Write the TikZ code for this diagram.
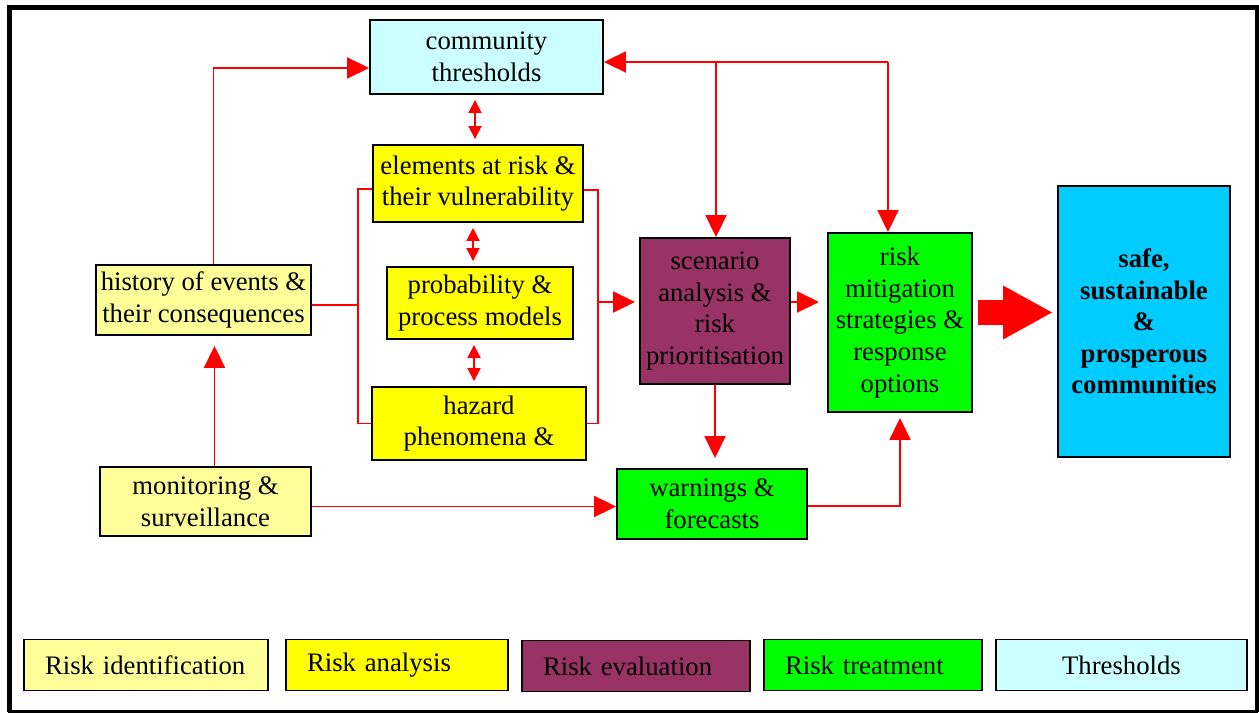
\documentclass[tikz,border=0pt]{standalone}
\usepackage{fontspec}
\setmainfont{LiberationSerif}[Extension=.ttf, UprightFont=*-Regular, BoldFont=*-Bold,
    ItalicFont=*-Italic, BoldItalicFont=*-BoldItalic]
\usetikzlibrary{arrows.meta}
\definecolor{idyellow}{HTML}{FFFF99}
\definecolor{anyellow}{HTML}{FFFF00}
\definecolor{evpurple}{HTML}{993366}
\definecolor{trgreen}{HTML}{00FF00}
\definecolor{thcyan}{HTML}{CCFFFF}
\definecolor{goalblue}{HTML}{00CCFF}
\tikzset{
    box/.style={draw=black, line width=1.1pt, align=center, inner sep=0pt,
        font=\fontsize{15.2}{18}\selectfont},
    key/.style={box, minimum height=1.02cm, inner xsep=0.42cm, align=left},
    feed/.style={red, line width=1.1pt},
    link/.style={feed, -{Triangle[length=0.44cm,width=0.42cm]}},
    twoway/.style={feed, {Triangle[length=0.26cm,width=0.26cm]}-{Triangle[length=0.26cm,width=0.26cm]},
        shorten <=0.1cm, shorten >=0.1cm},
    fat/.style={red, line width=0.52cm, -{Triangle[length=1cm,width=1cm]}}
}
\begin{document}
\begin{tikzpicture}[x=0.02cm, y=-0.02cm]
    \useasboundingbox (0,0) rectangle (1259,713);
    \draw[line width=0.05cm] (9.5,7.5) rectangle (1257,711.5);
    \draw[line width=0.1cm] (9.5,711.5) -- (9.5,7.5) -- (1257,7.5) -- (1257,711.5);

    \node[box, fill=thcyan, minimum width=4.66cm, minimum height=1.48cm] (thr) at (486.5,57) {community\\thresholds};
    \node[box, fill=anyellow, minimum width=4.2cm, minimum height=1.54cm] (elem) at (478,183.5) {elements at risk \&\\their vulnerability};
    \node[box, fill=anyellow, minimum width=3.72cm, minimum height=1.44cm] (prob) at (480,303) {probability \&\\process models};
    \node[box, fill=anyellow, minimum width=4.28cm, minimum height=1.46cm] (haz) at (479,423.5) {hazard\\phenomena \&};
    \node[box, fill=idyellow, minimum width=4.3cm, minimum height=1.4cm] (hist) at (203.5,300) {history of events \&\\their consequences};
    \node[box, fill=idyellow, minimum width=4.22cm, minimum height=1.38cm] (mon) at (205.5,501.5) {monitoring \&\\surveillance};
    \node[box, fill=evpurple, minimum width=3cm, minimum height=2.92cm] (scen) at (715,311) {scenario\\analysis \&\\risk\\prioritisation};
    \node[box, fill=trgreen, minimum width=2.88cm, minimum height=3.58cm] (mit) at (900,322.5) {risk\\mitigation\\strategies \&\\response\\options};
    \node[box, fill=trgreen, minimum width=3.8cm, minimum height=1.4cm] (warn) at (712,504) {warnings \&\\forecasts};
    \node[box, fill=goalblue, minimum width=3.44cm, minimum height=5.42cm,
        font=\fontsize{15.2}{18}\selectfont\bfseries] (safe) at (1144,321.5) {safe,\\sustainable\\\&\\prosperous\\communities};

    \coordinate (lb) at (358,305);
    \coordinate (rb) at (598,302);
    \coordinate (tm) at (716,62);
    \coordinate (tr) at (888,62);

    \draw[link] ([xshift=0.2cm]hist.north) |- ([yshift=-0.22cm]thr.west);
    \draw[link, shorten >=0.2cm] ([xshift=0.18cm]mon.north) -- ([xshift=0.18cm]mon.north |- hist.south);
    \draw[twoway] ([xshift=-0.06cm]elem.north) -- ([xshift=-0.06cm]elem.north |- thr.south);
    \draw[twoway] ([xshift=-0.1cm]elem.south) -- ([xshift=-0.1cm]elem.south |- prob.north);
    \draw[twoway] ([xshift=-0.12cm]prob.south) -- ([xshift=-0.12cm]prob.south |- haz.north);
    \draw[feed] ([yshift=-0.11cm]elem.west) -| (lb) |- (haz.west);
    \draw[feed] ([yshift=-0.1cm]hist.east) -- (lb);
    \draw[feed] ([yshift=-0.13cm]elem.east) -| (rb) |- (haz.east);
    \draw[link, shorten >=0.08cm] (rb) -- (rb -| scen.west);
    \draw[link, shorten >=0.16cm] (rb -| scen.east) -- (rb -| mit.west);
    \draw[link] (tr) -- (tr -| thr.east);
    \draw[link] (tr) -- (tr |- mit.north);
    \draw[link] (tm) -- (tm |- scen.north);
    \draw[link, shorten >=0.2cm] (scen.south) -- (scen.south |- warn.north);
    \draw[link] ([yshift=-0.1cm]mon.east) -- ([yshift=-0.1cm]mon.east -| warn.west);
    \draw[link, shorten >=0.1cm] ([yshift=-0.04cm]warn.east) -| (mit.south);
    \draw[fat, shorten <=0.1cm, shorten >=0.08cm] ([yshift=0.2cm]mit.east) -- ([yshift=0.2cm]mit.east -| safe.west);

    \node[key, fill=idyellow, text width=4.04cm] (kid) at (146,665) {Risk identification};
    \node[key, fill=anyellow, text width=3.6cm] (kan) at (397,665) {Risk analysis};
    \node[key, fill=evpurple, text width=3.72cm] (kev) at (636,666) {Risk evaluation};
    \node[key, fill=trgreen, text width=3.52cm] (ktr) at (873,665) {Risk treatment};
    \node[key, fill=thcyan, inner xsep=0pt, align=center, minimum width=5.02cm] (kth) at (1121.5,665) {Thresholds};
\end{tikzpicture}
\end{document}
